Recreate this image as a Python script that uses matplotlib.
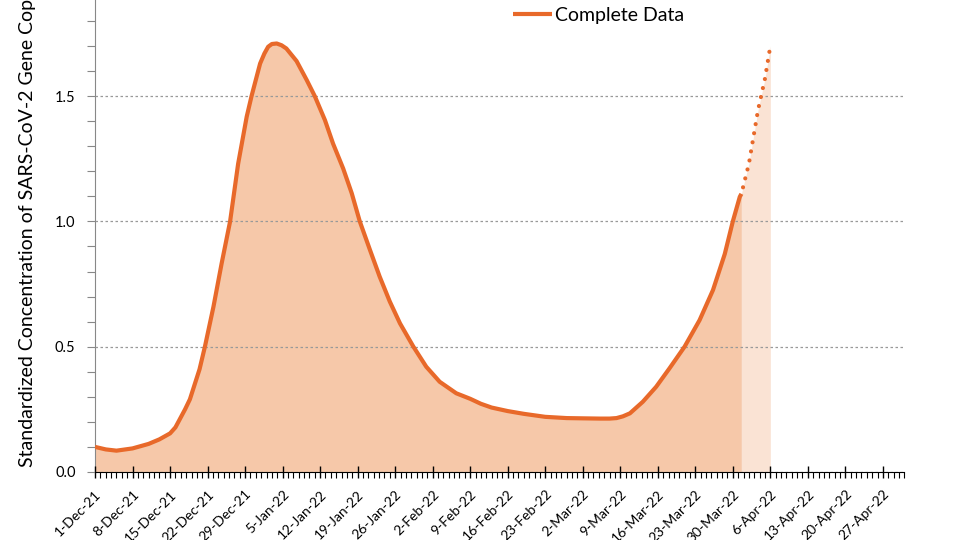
import matplotlib
matplotlib.use('Agg')
import matplotlib.pyplot as plt
import matplotlib.dates as mdates
import pandas as pd

# measured series (days after 1-Dec-21, standardized concentration)
complete_days = [0, 2, 4, 7, 10, 12, 14, 15, 15.8, 16.8, 17.7, 18.3, 19.5, 20.5,
                 22.1, 23.6, 25.2, 26.7, 28.3, 29.2, 30.8, 31.6, 32.3, 33.0, 33.9,
                 34.8, 35.7, 37.6, 39.5, 41.0, 42.9, 44.4, 46.3, 47.9, 49.4, 51.3,
                 53.1, 55.0, 56.9, 59.4, 61.8, 64.3, 67.4, 70, 72, 74, 77, 80, 84, 88,
                 91, 94.2, 96, 97.3, 98.5, 99.8, 102.2, 104.7, 107.2, 110.0, 112.8,
                 115.3, 117.5, 119.0, 120.3, 120.6]
complete_vals = [0.100, 0.090, 0.085, 0.094, 0.112, 0.130, 0.154, 0.178, 0.21, 0.25,
                 0.29, 0.33, 0.41, 0.50, 0.66, 0.83, 1.00, 1.23, 1.418, 1.50, 1.63,
                 1.67, 1.697, 1.708, 1.71, 1.703, 1.69, 1.64, 1.564, 1.50, 1.404,
                 1.311, 1.211, 1.112, 1.00, 0.886, 0.78, 0.68, 0.593, 0.50, 0.42,
                 0.36, 0.314, 0.292, 0.272, 0.257, 0.243, 0.232, 0.22, 0.215, 0.214,
                 0.213, 0.213, 0.215, 0.222, 0.234, 0.28, 0.34, 0.414, 0.50, 0.606,
                 0.726, 0.87, 1.00, 1.098, 1.11]

# projected (incomplete) days
partial_days = [120.6, 122, 123.7, 125, 126]
partial_vals = [1.11, 1.23, 1.444, 1.57, 1.70]

start = pd.Timestamp('2021-12-01')
tick_dates = pd.date_range('2021-12-01', '2022-04-27', freq='7D')
tick_labels = [f"{d.day}-{d.strftime('%b-%y')}" for d in tick_dates]

orange = '#E8692A'
fill_dark = '#F6C8A9'
fill_light = '#FAE3D4'

plt.rcParams['font.family'] = ['Lato', 'DejaVu Sans']

fig = plt.figure(figsize=(9.6, 5.4), dpi=100)
ax = fig.add_axes([0.099, 0.126, 0.843, 0.928])

x_c = start + pd.to_timedelta(complete_days, unit='D')
x_p = start + pd.to_timedelta(partial_days, unit='D')

ax.fill_between(x_c, complete_vals, 0, color=fill_dark, lw=0, zorder=1)
ax.fill_between(x_p, partial_vals, 0, color=fill_light, lw=0, zorder=1)
ax.plot(x_c, complete_vals, color=orange, lw=3, solid_capstyle='butt',
        solid_joinstyle='round', label='Complete Data', zorder=3)
ax.plot(x_p, partial_vals, color=orange, lw=3, linestyle=(0.6, (0.01, 2.2)),
        dash_capstyle='round', zorder=3)

ax.set_xlim(start, pd.Timestamp('2022-05-01'))
ax.set_ylim(0, 2.0)

ax.set_xticks(tick_dates)
ax.set_xticklabels(tick_labels, rotation=45, ha='right', rotation_mode='anchor',
                   fontsize=10)
ax.xaxis.set_minor_locator(mdates.DayLocator())
ax.tick_params(axis='x', which='major', direction='inout', length=9, width=1,
               color='black', pad=7)
ax.tick_params(axis='x', which='minor', direction='out', length=4, width=0.8,
               color='black')

ax.set_yticks([0.0, 0.5, 1.0, 1.5, 2.0])
ax.set_yticklabels(['0.0', '0.5', '1.0', '1.5', '2.0'], fontsize=10.5)
ax.set_yticks([i / 10 for i in range(21)], minor=True)
ax.tick_params(axis='y', which='both', direction='out', length=6, width=0.8,
               color='#888888', pad=8)

ax.grid(axis='y', which='major', color='#999999', linestyle=(0, (2, 2)), lw=0.9)
ax.set_axisbelow(False)
for gl in ax.get_ygridlines():
    gl.set_zorder(2)

ax.spines['top'].set_visible(False)
ax.spines['right'].set_visible(False)
ax.spines['left'].set_color('#888888')
ax.spines['bottom'].set_color('black')
ax.spines['bottom'].set_zorder(4)

ax.set_ylabel('Standardized Concentration of SARS-CoV-2 Gene Copies', fontsize=14,
              labelpad=14)

fig.legend(loc='center left', bbox_to_anchor=(513 / 960, 1 - 15 / 540),
           frameon=False, fontsize=14, handlelength=2.0, handletextpad=0.15,
           borderpad=0, borderaxespad=0)

fig.savefig('out.png', dpi=100)
